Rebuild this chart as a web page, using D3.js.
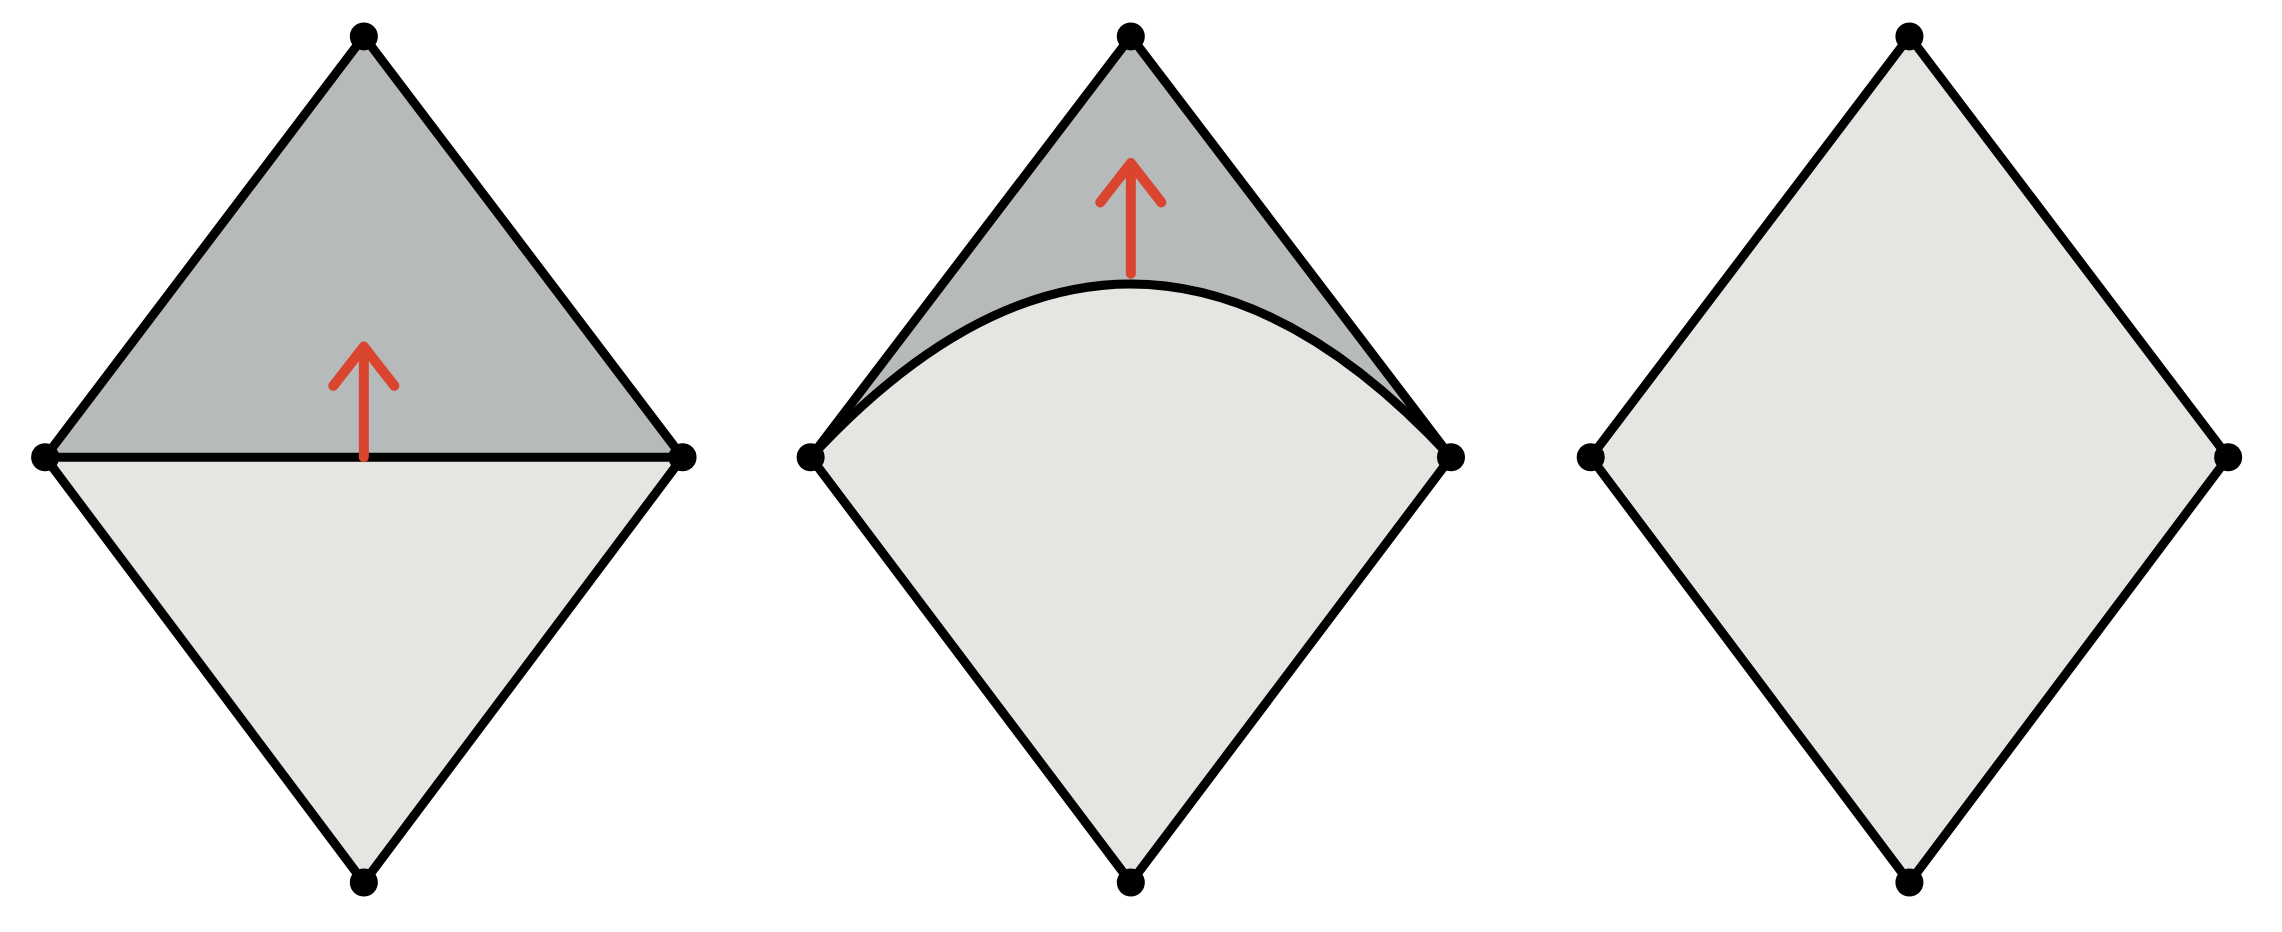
<!DOCTYPE html>
<html><head><meta charset="utf-8">
<script src="https://cdn.jsdelivr.net/npm/d3@7"></script>
<style>body{margin:0;background:#fff}</style></head>
<body><svg id="fig" width="2282" height="932"></svg>
<script>
// diamond vertices in reference units (image ~1568 wide)
const centers = [250, 777, 1312];
const halfW = [219, 220, 219];
const topY = 25, midY = 314, botY = 606;
// peak of the dividing line in each panel (null = no split)
const splitPeak = [314, 195, null];
const arrows = [[314, 238], [188, 112], null];

const svg = d3.select("#fig");
const x = d3.scaleLinear().domain([0, 1568]).range([0, 2282]);
const y = d3.scaleLinear().domain([0, 640]).range([0, 932]);
const line = d3.line().x(d => x(d[0])).y(d => y(d[1]));

centers.forEach((c, i) => {
  const l = c - halfW[i], r = c + halfW[i];
  const g = svg.append("g");
  const outline = line([[c, topY], [r, midY], [c, botY], [l, midY]]) + "Z";
  g.append("path").attr("d", outline).attr("fill", "#e6e5e1");
  if (splitPeak[i] !== null) {
    const ctrl = 2 * splitPeak[i] - midY;
    const top = d3.path();
    top.moveTo(x(l), y(midY)); top.lineTo(x(c), y(topY)); top.lineTo(x(r), y(midY));
    top.quadraticCurveTo(x(c), y(ctrl), x(l), y(midY)); top.closePath();
    g.append("path").attr("d", top.toString()).attr("fill", "#b6babb");
    const div = d3.path();
    div.moveTo(x(l), y(midY)); div.quadraticCurveTo(x(c), y(ctrl), x(r), y(midY));
    g.append("path").attr("d", div.toString()).attr("fill", "none")
      .attr("stroke", "#000").attr("stroke-width", 9);
  }
  g.append("path").attr("d", outline).attr("fill", "none")
    .attr("stroke", "#000").attr("stroke-width", 9).attr("stroke-linejoin", "round");
  if (arrows[i]) {
    const [y0, y1] = arrows[i];
    g.append("path").attr("d", line([[c, y0], [c, y1]]) + line([[c - 21, y1 + 27], [c, y1], [c + 21, y1 + 27]]))
      .attr("fill", "none").attr("stroke", "#d9452e").attr("stroke-width", 10)
      .attr("stroke-linecap", "round").attr("stroke-linejoin", "round");
  }
  [[c, topY], [r, midY], [c, botY], [l, midY]].forEach(p =>
    g.append("circle").attr("cx", x(p[0])).attr("cy", y(p[1])).attr("r", 14).attr("fill", "#000"));
});
</script></body></html>
